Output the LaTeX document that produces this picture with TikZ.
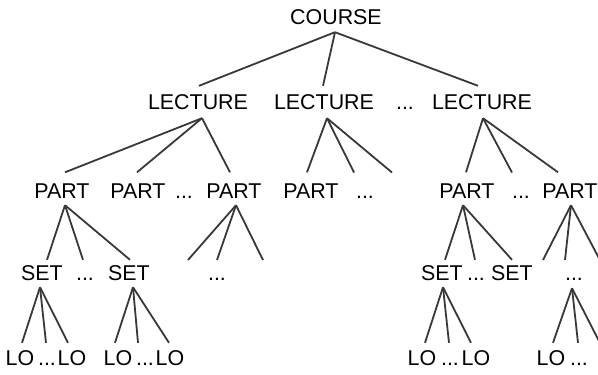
\documentclass[tikz,border=0pt]{standalone}
\usepackage{fontspec}
\setmainfont{Liberation Sans}
\definecolor{linegray}{HTML}{383838}
\begin{document}
\begin{tikzpicture}[x=1pt,y=-1pt,
  term/.style={font=\fontsize{21.4}{24}\selectfont, inner sep=0pt, anchor=base,
               text height=23pt, text depth=7.5pt},
  course/.style={term, text depth=7.5pt},
  lecture/.style={term, text height=23.5pt, text depth=8.5pt},
  part/.style={term, text height=25.5pt, text depth=7pt},
  set/.style={term, text height=20.5pt, text depth=6.5pt},
  lo/.style={term, text height=22.5pt, text depth=0pt},
  link/.style={draw=linegray, line width=1.8pt}]
\useasboundingbox (0,0) rectangle (598,375);

% root
\node[course] (c) at (336,24.5) {COURSE};

% lectures
\node[lecture] (l1) at (198,109.5) {LECTURE};
\node[lecture] (l2) at (324,109.5) {LECTURE};
\node[lecture] (ld) at (405,109.5) {...};
\node[lecture] (l3) at (482,109.5) {LECTURE};

% parts
\node[part] (p1) at (62,198) {PART};
\node[part] (p2) at (138,198) {PART};
\node[part] (pd1) at (184,198) {...};
\node[part] (p3) at (234,198) {PART};
\node[part] (p4) at (311,198) {PART};
\node[part] (pd2) at (365,198) {...};
\node[part] (p5) at (467,198) {PART};
\node[part] (pd3) at (521,198) {...};
\node[part] (p6) at (570,198) {PART};

% sets
\node[set] (s1) at (42,280.5) {SET};
\node[set] (sd1) at (85,280.5) {...};
\node[set] (s2) at (129,280.5) {SET};
\node[set] (sd2) at (217,280.5) {...};
\node[set] (s3) at (442,280.5) {SET};
\node[set] (sd3) at (476,280.5) {...};
\node[set] (s4) at (512,280.5) {SET};
\node[set] (sd4) at (574,280.5) {...};

% learning objects
\node[lo] (o1) at (20,365.5) {LO};
\node[lo] (od1) at (47,365.5) {...};
\node[lo] (o2) at (72,365.5) {LO};
\node[lo] (o3) at (118,365.5) {LO};
\node[lo] (od2) at (145,365.5) {...};
\node[lo] (o4) at (170,365.5) {LO};
\node[lo] (o5) at (422,365.5) {LO};
\node[lo] (od3) at (450,365.5) {...};
\node[lo] (o6) at (476,365.5) {LO};
\node[lo] (o7) at (551,365.5) {LO};
\node[lo] (od4) at (579,365.5) {...};

% open branch ends
\coordinate (m1) at (354,172.5);
\coordinate (m2) at (392,172.5);
\coordinate (m3) at (512,172.5);
\coordinate (q1) at (188,260);
\coordinate (q2) at (217,260);
\coordinate (q3) at (263,260);
\coordinate (q4) at (543,260);
\coordinate (q5) at (565,260);
\coordinate (q6) at (601,262);
\coordinate (r1) at (601,345);

% course -> lectures
\draw[link] ([xshift=-1pt]c.south) -- ([xshift=1pt]l1.north);
\draw[link] ([xshift=-1pt]c.south) -- ([xshift=-1pt]l2.north);
\draw[link] ([xshift=-1pt]c.south) -- ([xshift=-4pt]l3.north);

% lectures -> parts
\draw[link] ([xshift=4pt]l1.south) -- ([xshift=3pt]p1.north);
\draw[link] ([xshift=4pt]l1.south) -- ([xshift=-1pt]p2.north);
\draw[link] ([xshift=4pt]l1.south) -- ([xshift=-4pt]p3.north);
\draw[link] ([xshift=3pt]l2.south) -- ([xshift=-4pt]p4.north);
\draw[link] ([xshift=3pt]l2.south) -- (m1);
\draw[link] ([xshift=3pt]l2.south) -- (m2);
\draw[link] ([xshift=1pt]l3.south) -- ([xshift=-1pt]p5.north);
\draw[link] ([xshift=1pt]l3.south) -- (m3);
\draw[link] ([xshift=1pt]l3.south) -- ([xshift=-12pt]p6.north);

% parts -> sets
\draw[link] ([xshift=3pt]p1.south) -- ([xshift=5pt]s1.north);
\draw[link] ([xshift=3pt]p1.south) -- ([xshift=-2pt]sd1.north);
\draw[link] ([xshift=3pt]p1.south) -- ([xshift=1pt]s2.north);
\draw[link] ([xshift=2pt]p3.south) -- (q1);
\draw[link] ([xshift=2pt]p3.south) -- (q2);
\draw[link] ([xshift=2pt]p3.south) -- (q3);
\draw[link] ([xshift=-4pt]p5.south) -- ([xshift=3pt]s3.north);
\draw[link] ([xshift=-4pt]p5.south) -- ([xshift=-1pt]sd3.north);
\draw[link] ([xshift=-4pt]p5.south) -- (s4.north);
\draw[link] ([xshift=1pt]p6.south) -- (q4);
\draw[link] ([xshift=1pt]p6.south) -- (q5);
\draw[link] ([xshift=1pt]p6.south) -- (q6);

% sets -> learning objects
\draw[link] ([xshift=-2pt]s1.south) -- ([xshift=2pt]o1.north);
\draw[link] ([xshift=-2pt]s1.south) -- ([xshift=-1pt]od1.north);
\draw[link] ([xshift=-2pt]s1.south) -- ([xshift=-4pt]o2.north);
\draw[link] ([xshift=4pt]s2.south) -- ([xshift=-3pt]o3.north);
\draw[link] ([xshift=4pt]s2.south) -- ([xshift=-7pt]od2.north);
\draw[link] ([xshift=4pt]s2.south) -- ([xshift=-1pt]o4.north);
\draw[link] ([xshift=1pt]s3.south) -- ([xshift=3pt]o5.north);
\draw[link] ([xshift=1pt]s3.south) -- ([xshift=-1pt]od3.north);
\draw[link] ([xshift=1pt]s3.south) -- ([xshift=-5pt]o6.north);
\draw[link] ([xshift=-2pt,yshift=-1pt]sd4.south) -- ([xshift=2pt]o7.north);
\draw[link] ([xshift=-2pt,yshift=-1pt]sd4.south) -- ([xshift=-1pt]od4.north);
\draw[link] ([xshift=-2pt,yshift=-1pt]sd4.south) -- (r1);
\end{tikzpicture}
\end{document}
